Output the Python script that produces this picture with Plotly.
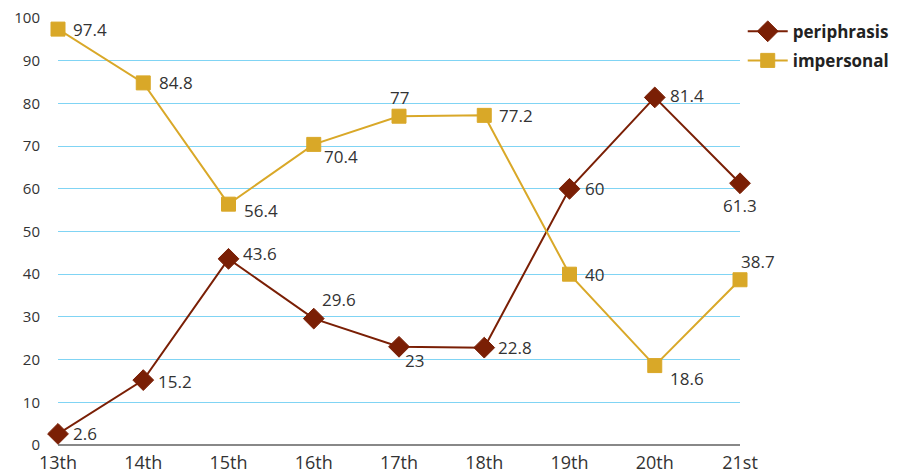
import plotly.graph_objects as go

centuries = ["13th", "14th", "15th", "16th", "17th", "18th", "19th", "20th", "21st"]
periphrasis = [2.6, 15.2, 43.6, 29.6, 23, 22.8, 60, 81.4, 61.3]
impersonal = [97.4, 84.8, 56.4, 70.4, 77, 77.2, 40, 18.6, 38.7]

# label placement per point: (xanchor, xshift, yshift)
periphrasis_lbl = [("left", 13, 0), ("left", 13, -1), ("left", 12, 5), ("left", 6, 19),
                   ("left", 4, -14), ("left", 12, 0), ("left", 13, 0), ("left", 13, 2),
                   ("center", 0, -22)]
impersonal_lbl = [("left", 13, 0), ("left", 14, 0), ("left", 13, -6), ("left", 8, -12),
                  ("center", 0, 19), ("left", 13, 0), ("left", 13, 0), ("left", 13, -13),
                  ("center", 18, 18)]

FONT = "Open Sans"
LABEL_FONT = dict(family=FONT, size=17, color="#333333")
RED = "#7a1f05"
GOLD = "#d9a828"

fig = go.Figure()
fig.add_trace(go.Scatter(
    x=centuries, y=periphrasis, name="periphrasis", mode="lines+markers",
    legendgroup="p",
    line=dict(color=RED, width=2),
    marker=dict(symbol="diamond", size=16, color=RED, line=dict(color=RED, width=1)),
    cliponaxis=False,
))
fig.add_trace(go.Scatter(
    x=centuries, y=impersonal, name="impersonal", mode="lines+markers",
    legendgroup="i",
    line=dict(color=GOLD, width=2),
    marker=dict(symbol="square", size=14, color=GOLD, line=dict(color=GOLD, width=1)),
    cliponaxis=False,
))

for series, placement in ((periphrasis, periphrasis_lbl), (impersonal, impersonal_lbl)):
    for cat, val, (anchor, dx, dy) in zip(centuries, series, placement):
        fig.add_annotation(x=cat, y=val, text=str(val), showarrow=False,
                           xanchor=anchor, yanchor="middle", xshift=dx, yshift=dy,
                           font=LABEL_FONT)

fig.update_layout(
    width=900, height=473,
    margin=dict(l=58, r=160, t=18, b=28, autoexpand=False),
    paper_bgcolor="white", plot_bgcolor="white",
    font=dict(family=FONT, size=16, color="#333333"),
    legend=dict(x=1.004, y=1.01, xanchor="left", yanchor="top",
                font=dict(family=FONT, size=17, color="#222222", weight="bold"),
                itemwidth=40, bgcolor="rgba(0,0,0,0)", tracegroupgap=4),
    xaxis=dict(range=[0, 8], showgrid=False, showline=False, zeroline=False,
               ticks="", tickfont=dict(size=18), automargin=False,
               ticklabelstandoff=5),
    yaxis=dict(range=[0, 100], dtick=10, showgrid=True, gridcolor="#80d4f4",
               gridwidth=1, zeroline=True, zerolinecolor="#888888", zerolinewidth=1.5,
               showline=False, ticks="", ticklabelstandoff=17, automargin=False,
               tickfont=dict(size=15)),
)

fig.write_html("out.html")
